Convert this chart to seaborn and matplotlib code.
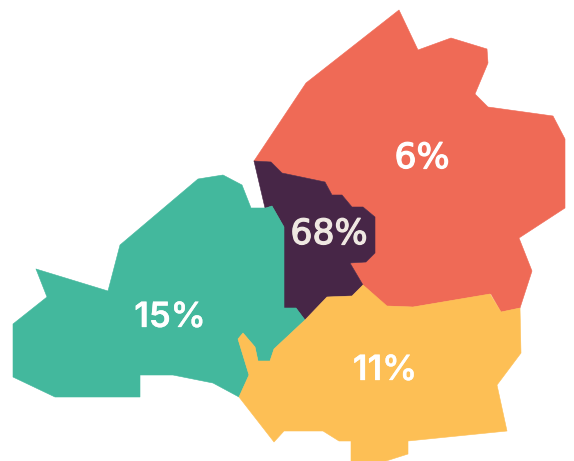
import matplotlib
matplotlib.use("Agg")
import matplotlib.patheffects as pe
import matplotlib.pyplot as plt
import pandas as pd
import seaborn as sns

regions = ["North", "Centre", "West", "South"]
shares = ["6%", "68%", "15%", "11%"]
colors = ["#EF6A56", "#472647", "#43B89D", "#FDBF55"]
label_colors = ["#FFFFFF", "#EFE8E2", "#FFFFFF", "#FFFFFF"]
label_fonts = ["DejaVu Sans", "DejaVu Sans", "Inter", "Inter"]
label_weights = ["normal", "normal", "semibold", "semibold"]
label_strokes = [0.9, 0.9, 0.2, 0.2]
label_x = [422, 329, 170, 385]
label_y = [158, 234, 318, 371]

north_x = [254, 306, 399, 418, 451, 487, 488, 475, 488, 553, 565, 565, 519, 532, 520, 501, 491, 413, 386, 363, 350, 366, 375, 375, 363, 352, 342, 332, 325, 282, 271]
north_y = [161, 83, 10, 50, 38, 49, 63, 94, 107, 116, 139, 208, 238, 271, 308, 312, 294, 307, 306, 285, 263, 262, 253, 217, 207, 207, 195, 195, 182, 173, 162]
centre_x = [254, 271, 282, 325, 332, 342, 352, 363, 375, 375, 366, 350, 363, 352, 327, 305, 296, 284, 284, 272, 265]
centre_y = [161, 162, 173, 182, 195, 195, 207, 207, 217, 253, 262, 263, 285, 296, 297, 320, 308, 308, 227, 206, 208]
west_x = [36, 108, 120, 198, 223, 242, 251, 266, 272, 284, 284, 296, 305, 274, 270, 258, 255, 243, 238, 249, 239, 213, 173, 140, 140, 55, 13, 13, 47]
west_y = [269, 291, 245, 179, 175, 185, 208, 208, 206, 227, 308, 308, 320, 349, 361, 361, 347, 333, 339, 375, 397, 383, 375, 375, 397, 397, 377, 324, 297]
south_x = [363, 387, 413, 490, 501, 520, 521, 497, 507, 408, 408, 386, 351, 351, 339, 323, 284, 274, 239, 249, 238, 243, 255, 258, 270, 274, 305, 327, 352]
south_y = [285, 306, 307, 294, 312, 308, 353, 385, 431, 441, 454, 461, 461, 441, 441, 431, 431, 442, 397, 375, 339, 333, 347, 361, 361, 349, 320, 297, 296]

outlines = [(north_x, north_y), (centre_x, centre_y), (west_x, west_y), (south_x, south_y)]

sns.set_theme(style="white")
fig = plt.figure(figsize=(5.74, 4.61), dpi=100)
ax = fig.add_axes([0, 0, 1, 1])

for name, (xs, ys), color in zip(regions, outlines, colors):
    frame = pd.DataFrame({"x": xs + xs[:1], "y": ys + ys[:1]})
    ax.fill(xs, ys, color=color, linewidth=0, zorder=2)
    sns.lineplot(data=frame, x="x", y="y", sort=False, estimator=None,
                 color=color, linewidth=0.4, ax=ax, zorder=2)

for text, x, y, color, font, weight, stroke in zip(shares, label_x, label_y, label_colors,
                                                   label_fonts, label_weights, label_strokes):
    label = ax.text(x, y, text, color=color, family=font, fontsize=25, fontweight=weight,
                    ha="center", va="center", zorder=3)
    label.set_path_effects([pe.withStroke(linewidth=stroke, foreground=color)])

ax.set_xlim(0, 574)
ax.set_ylim(461, 0)
ax.axis("off")
fig.savefig("out.png", dpi=100, facecolor="white")
